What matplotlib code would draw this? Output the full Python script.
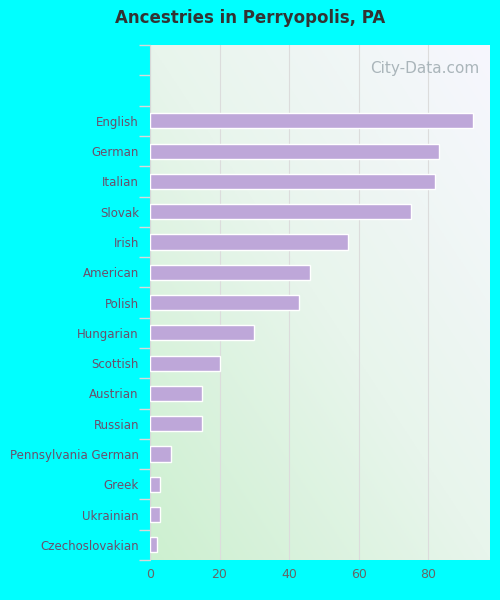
import numpy as np
import matplotlib.pyplot as plt
from matplotlib.colors import LinearSegmentedColormap

categories = ['English', 'German', 'Italian', 'Slovak', 'Irish', 'American', 'Polish',
              'Hungarian', 'Scottish', 'Austrian', 'Russian', 'Pennsylvania German',
              'Greek', 'Ukrainian', 'Czechoslovakian']
values = [93, 83, 82, 75, 57, 46, 43, 30, 20, 15, 15, 6, 3, 3, 2]
xticks = [0, 20, 40, 60, 80]

n_slots = len(categories) + 2
XMAX = 97.8

fig = plt.figure(figsize=(5, 6), dpi=100, facecolor='#00ffff')
ax = fig.add_axes([0.30, 0.0667, 0.68, 0.858])
ax.set_facecolor('#00ffff')

# gradient background: green bottom-left, lavender-white top-right
gx, gy = np.meshgrid(np.linspace(0, 1, 200), np.linspace(0, 1, 200))
t = np.clip((1 - gx + gy) / 2, 0, 1)  # 0 top-right, 1 bottom-left
cmap = LinearSegmentedColormap.from_list('bg', ['#f7f7fe', '#e8f5ec', '#cdf0d0'])
ax.imshow(t, cmap=cmap, extent=[0, XMAX, n_slots - 0.5, -0.5], aspect='auto', zorder=0)

ypos = np.arange(2, n_slots)
ax.barh(ypos, values, height=0.5, color='#bea7d9', edgecolor='white', linewidth=1, zorder=3)

ax.set_xlim(0, XMAX)
ax.set_ylim(n_slots - 0.5, -0.5)
ax.set_xticks(xticks)
ax.set_yticks(ypos)
ax.set_yticklabels(categories)
ax.set_yticks(np.arange(n_slots + 1) - 0.5, minor=True)
ax.tick_params(axis='y', which='major', length=0, labelsize=8.5, labelcolor='#6b4f6b', pad=8)
ax.tick_params(axis='y', which='minor', length=8, color='#d8d8d8', width=1)
ax.tick_params(axis='x', length=0, labelsize=9, labelcolor='#666666', pad=6)
ax.grid(axis='x', color='#dcdcdc', linewidth=0.8, zorder=1)
for s in ['top', 'right', 'bottom']:
    ax.spines[s].set_visible(False)
ax.spines['left'].set_color('#d8d8d8')

ax.text(0.97, 0.955, 'City-Data.com', transform=ax.transAxes, ha='right', va='center',
        fontsize=11, color='#aab5ba', zorder=4)

fig.text(0.5, 0.97, 'Ancestries in Perryopolis, PA', ha='center', va='center',
         fontsize=12, fontweight='bold', color='#333333')

fig.savefig('out.png', dpi=100, facecolor=fig.get_facecolor())
